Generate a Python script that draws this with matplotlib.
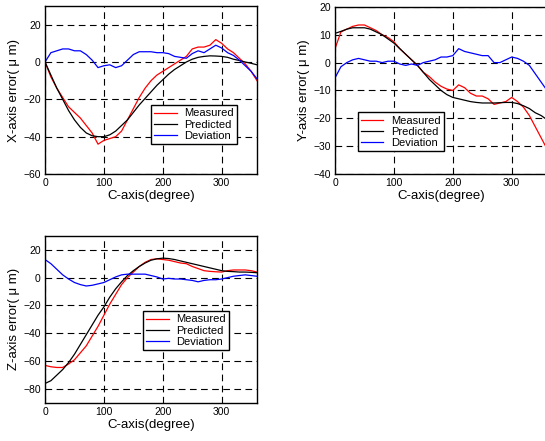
import matplotlib
matplotlib.use("Agg")
import matplotlib.pyplot as plt

plt.rcParams['font.family'] = ['Liberation Sans', 'DejaVu Sans']

# C-axis angle (degree), sampled every 10 degrees
deg = list(range(0, 361, 10))

# X-axis error (um)
x_meas = [0, -8, -14, -19, -24, -27, -30, -34, -38, -44, -42, -41, -40, -37, -31,
          -25, -19, -14, -10, -7, -5, -3, -1, 1, 3, 7, 8, 8, 9, 12, 10, 7, 5, 2, -1, -5, -10]
x_pred = [0, -7, -14, -20, -26, -31, -35, -38, -39.5, -40, -40, -39, -37, -34, -31,
          -27, -23, -19.5, -16, -12.5, -9.5, -6.5, -4, -2, 0, 1.5, 2.5, 3, 3.3, 3.2,
          3, 2.5, 1.5, 0.8, 0, -0.7, -1.5]
x_dev = [0, 5, 6, 7, 7, 6, 6, 4, 1, -3, -2, -1.5, -3, -2, 1, 4, 5.5, 5.5, 5.5, 5, 5,
         4.5, 3, 2.5, 2, 4.5, 6, 5, 7, 9, 7.5, 5, 3.5, 1, -2, -5, -9]

# Y-axis error (um)
y_meas = [5, 11, 12, 13, 13.5, 13.5, 12.5, 11.5, 10, 9, 7.5, 5, 3, 1, -1, -3.5, -5,
          -7, -8.5, -9.5, -10, -8, -9, -11, -12, -12, -13, -15, -14.5, -14, -12.5,
          -14, -16, -19, -23, -27, -31]
y_pred = [10.5, 11.2, 12, 12.5, 12.5, 12.5, 12, 11, 10, 8.5, 7, 5, 3, 1, -1, -3.5,
          -6, -8, -10, -11.5, -12.5, -13, -13.5, -14, -14.3, -14.5, -14.5, -14.5,
          -14.4, -14.3, -14.3, -14.7, -15.5, -16.5, -18, -19, -20.5]
y_dev = [-5.5, -1.5, 0, 1, 1.5, 1, 0.5, 0.5, 0, 0.5, 0.5, -0.5, -1, -0.5, -1, 0, 0.5,
         1, 2, 2, 2.5, 5, 4, 3.5, 3, 2.5, 2.5, 0, 0, 1, 2, 1.5, 0.5, -1, -4, -7, -10]

# Z-axis error (um)
z_meas = [-63, -64, -64.5, -64.5, -62, -59, -54, -49, -42, -35, -27, -19, -12, -5, 0,
          4, 8, 11, 13, 13.5, 13, 12.5, 11.5, 10.5, 10, 8, 6.5, 5, 4.5, 4.2, 4, 5, 5.5,
          5.5, 5.5, 5, 4]
z_pred = [-76, -74, -70, -66, -61, -55, -48, -41, -34, -27, -21, -14, -8, -3, 1.5, 5,
          8, 10.5, 12.5, 13.5, 14, 13.7, 13, 12, 11, 10, 9, 8, 7, 6, 5, 4.5, 4.3, 4,
          4, 3.8, 3.5]
z_dev = [13, 10, 6, 2, -1, -3.5, -5, -6, -5.5, -4.5, -3.5, -1.5, 0.5, 2, 2.5, 2.5, 2.5,
         2.5, 1.5, 0.5, -1, -0.5, -1, -1, -1.5, -2, -3, -2, -1.5, -1.5, -1, 0, 1, 1.5,
         2, 1.5, 1]


def error_panel(ax, meas, pred, dev, ylabel, ylim, ystep, legend_corner):
    ax.plot(deg, meas, color='red', lw=0.9, label='Measured')
    ax.plot(deg, pred, color='black', lw=0.9, label='Predicted')
    ax.plot(deg, dev, color='blue', lw=0.9, label='Deviation')
    ax.set_xlim(0, 360)
    ax.set_ylim(*ylim)
    ax.set_xticks([0, 100, 200, 300])
    ax.set_yticks(range(ylim[0], ylim[1] + 1, ystep))
    ax.grid(True, color='black', ls=(0, (6, 4)), lw=0.8)
    ax.tick_params(length=0, pad=3, labelsize=7.5)
    ax.set_xlabel('C-axis(degree)', fontsize=9.5, labelpad=1)
    ax.set_ylabel(ylabel, fontsize=9.5, labelpad=2)
    for s in ax.spines.values():
        s.set_linewidth(1.0)
    leg = ax.legend(loc='upper left', bbox_to_anchor=legend_corner,
                    fontsize=8, frameon=True, fancybox=False, edgecolor='black',
                    framealpha=1, handlelength=2.0, handletextpad=0.7,
                    borderpad=0.3, labelspacing=0.1, borderaxespad=0)
    leg.get_frame().set_linewidth(1.0)


fig = plt.figure(figsize=(5.45, 4.41), dpi=100)

ax1 = fig.add_axes([0.0826, 0.6054, 0.389, 0.381])
error_panel(ax1, x_meas, x_pred, x_dev, 'X-axis error( μ m)', (-60, 30), 20,
            (0.50, 0.41))
ax1.set_yticks([-60, -40, -20, 0, 20])

ax2 = fig.add_axes([0.6147, 0.6054, 0.389, 0.379])
error_panel(ax2, y_meas, y_pred, y_dev, 'Y-axis error( μ m)', (-40, 20), 10,
            (0.108, 0.37))

ax3 = fig.add_axes([0.0826, 0.0862, 0.389, 0.379])
error_panel(ax3, z_meas, z_pred, z_dev, 'Z-axis error( μ m)', (-90, 30), 20,
            (0.462, 0.55))
ax3.set_yticks([-80, -60, -40, -20, 0, 20])

fig.savefig('out.png', dpi=100)
